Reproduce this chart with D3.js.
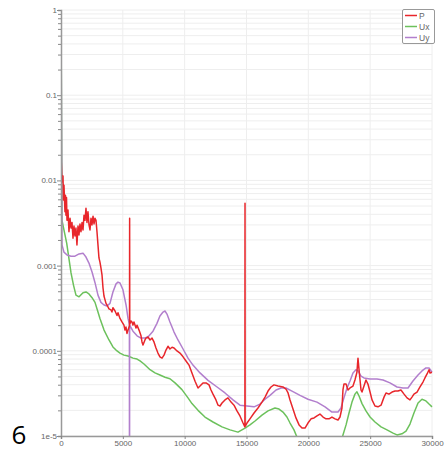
<!DOCTYPE html>
<html><head><meta charset="utf-8">
<script src="https://cdn.jsdelivr.net/npm/d3@7"></script>
<style>body{margin:0;background:#fff;}svg{display:block;font-family:"Liberation Sans",Arial,sans-serif;}</style>
</head><body>
<svg id="c" width="445" height="453"></svg>
<script>
const seriesNames = ["P", "Ux", "Uy"];
const seriesColors = ["#e8262b", "#6cc15c", "#b27fcd"];
const xTicks = [0, 5000, 10000, 15000, 20000, 25000, 30000];
const yTicks = [1, 0.1, 0.01, 0.001, 0.0001, 1e-5];
const yTickLabels = ["1", "0.1", "0.01", "0.001", "0.0001", "1e-5"];
const pageLabel = "6";

const pData = [[0,0.02],[80,9.6e-3],[160,1.13e-2],[200,5.9e-3],[240,8.8e-3],[320,4.3e-3],[360,6.7e-3],[400,3.9e-3],[445,6.3e-3],[485,3.4e-3],[565,4.5e-3],[645,2.5e-3],[730,3.6e-3],[810,2.76e-3],[890,3.2e-3],[970,2.1e-3],[1050,2.92e-3],[1130,2.23e-3],[1210,2.76e-3],[1290,1.75e-3],[1375,2.92e-3],[1455,2.29e-3],[1535,3.08e-3],[1615,2.5e-3],[1700,3.2e-3],[1780,2.62e-3],[1860,3.9e-3],[1940,3.4e-3],[2020,4.7e-3],[2100,3.2e-3],[2180,4.3e-3],[2265,3.0e-3],[2345,2.62e-3],[2425,3.6e-3],[2505,3.0e-3],[2590,3.8e-3],[2670,3.08e-3],[2750,3.6e-3],[2830,3.4e-3],[2910,2.5e-3],[2990,1.75e-3],[3070,1.23e-3],[3150,1.1e-3],[3230,9.4e-4],[3315,7.8e-4],[3395,5.5e-4],[3475,4.4e-4],[3560,3.96e-4],[3640,3.6e-4],[3720,3.45e-4],[3880,3.1e-4],[4040,3.02e-4],[4120,2.85e-4],[4200,3.2e-4],[4370,2.93e-4],[4530,2.6e-4],[4610,2.8e-4],[4770,2.4e-4],[4930,2.18e-4],[5090,2.0e-4],[5175,1.75e-4],[5255,1.9e-4],[5335,1.6e-4],[5420,1.75e-4],[5540,1.97e-4],[5550,3.6e-3],[5560,2.05e-4],[5660,2.24e-4],[5740,2.18e-4],[5820,2.0e-4],[5900,2.18e-4],[6065,1.85e-4],[6145,2.0e-4],[6310,1.75e-4],[6470,1.5e-4],[6550,1.27e-4],[6630,1.17e-4],[6790,1.34e-4],[6870,1.41e-4],[7035,1.45e-4],[7200,1.34e-4],[7360,1.41e-4],[7520,1.27e-4],[7680,1.08e-4],[7840,9.4e-5],[8000,8.5e-5],[8170,8.2e-5],[8330,8.9e-5],[8490,1.02e-4],[8650,1.13e-4],[8810,1.05e-4],[8980,1.1e-4],[9140,1.08e-4],[9380,9.95e-5],[9620,9.4e-5],[9870,8.5e-5],[10110,7.6e-5],[10350,6.8e-5],[10590,5.5e-5],[10840,4.4e-5],[11080,3.66e-5],[11240,3.86e-5],[11480,4.2e-5],[11730,4.2e-5],[11970,3.98e-5],[12130,3.47e-5],[12290,3.1e-5],[12530,2.65e-5],[12700,2.3e-5],[12860,2.25e-5],[13020,2.44e-5],[13260,2.65e-5],[13500,2.8e-5],[13750,2.5e-5],[13990,2.3e-5],[14230,1.97e-5],[14470,1.72e-5],[14720,1.42e-5],[14870,1.28e-5],[14880,5.4e-3],[14890,1.3e-5],[15040,1.42e-5],[15280,1.59e-5],[15610,1.86e-5],[15930,2.13e-5],[16250,2.5e-5],[16500,2.86e-5],[16740,3.37e-5],[16980,3.76e-5],[17220,3.98e-5],[17550,3.86e-5],[17950,3.76e-5],[18190,3.56e-5],[18360,3.2e-5],[18520,2.65e-5],[18760,2.07e-5],[19000,1.63e-5],[19250,1.35e-5],[19490,1.24e-5],[19730,1.24e-5],[19970,1.42e-5],[20220,1.59e-5],[20460,1.63e-5],[20700,1.72e-5],[20940,1.81e-5],[21190,1.67e-5],[21430,1.59e-5],[21670,1.59e-5],[21910,1.67e-5],[22160,1.59e-5],[22400,1.54e-5],[22560,1.67e-5],[22720,2.13e-5],[22800,3.47e-5],[22880,4.07e-5],[23050,4.07e-5],[23210,3.47e-5],[23370,3.66e-5],[23610,3.86e-5],[23770,4.54e-5],[23930,5.6e-5],[24015,8.2e-5],[24100,6.0e-5],[24180,4.54e-5],[24260,3.47e-5],[24340,3.28e-5],[24500,3.86e-5],[24660,4.54e-5],[24820,4.07e-5],[24990,3.28e-5],[25150,2.65e-5],[25390,2.25e-5],[25630,2.2e-5],[25880,2.3e-5],[26120,2.86e-5],[26280,3.2e-5],[26520,3.1e-5],[26770,3.28e-5],[27010,3.37e-5],[27250,3.37e-5],[27490,3.47e-5],[27740,3.1e-5],[27980,2.8e-5],[28220,2.65e-5],[28380,2.86e-5],[28540,3.1e-5],[28790,3.28e-5],[29030,3.76e-5],[29270,4.3e-5],[29430,4.8e-5],[29600,5.35e-5],[29760,6.0e-5],[29840,5.5e-5],[30000,5.6e-5]];

const uxData = [[0,1],[80,3.4e-3],[460,1.84e-3],[810,8.2e-4],[1010,5.9e-4],[1210,4.5e-4],[1460,4.3e-4],[1780,4.8e-4],[2020,4.9e-4],[2260,4.65e-4],[2510,4.2e-4],[2750,3.7e-4],[2990,2.85e-4],[3150,2.4e-4],[3480,1.75e-4],[3880,1.34e-4],[4200,1.11e-4],[4450,1.02e-4],[4770,9.4e-5],[5090,8.9e-5],[5420,8.7e-5],[5820,8.2e-5],[6150,8.0e-5],[6390,7.6e-5],[6710,7.0e-5],[7200,6.0e-5],[7600,5.5e-5],[8000,5.2e-5],[8410,4.9e-5],[8810,4.7e-5],[9220,4.2e-5],[9780,3.5e-5],[10270,2.8e-5],[10590,2.4e-5],[11080,2.0e-5],[11640,1.67e-5],[12290,1.46e-5],[13020,1.28e-5],[13670,1.18e-5],[14310,1.11e-5],[14880,1.24e-5],[15280,1.35e-5],[15690,1.5e-5],[16250,1.76e-5],[16740,1.97e-5],[17300,2.13e-5],[17630,2.07e-5],[17950,1.91e-5],[18270,1.67e-5],[18520,1.42e-5],[18840,1.18e-5],[19080,9.7e-6],[19330,7.9e-6],[19570,5.5e-6],[20900,3e-6],[22400,5e-6],[22640,8e-6],[22800,1.03e-5],[23050,1.35e-5],[23290,1.86e-5],[23530,2.5e-5],[23770,3.1e-5],[23930,3.3e-5],[24100,2.95e-5],[24340,2.4e-5],[24660,1.97e-5],[24990,1.67e-5],[25390,1.46e-5],[25880,1.28e-5],[26360,1.18e-5],[26850,1.08e-5],[27170,1.03e-5],[27570,1.06e-5],[27900,1.14e-5],[28220,1.38e-5],[28540,1.86e-5],[28870,2.44e-5],[29190,2.7e-5],[29510,2.58e-5],[29760,2.37e-5],[30000,2.2e-5]];

const uyData = [[0,1],[80,1.75e-3],[240,1.44e-3],[490,1.33e-3],[810,1.29e-3],[1130,1.29e-3],[1460,1.37e-3],[1780,1.4e-3],[2020,1.26e-3],[2260,1.07e-3],[2510,8.4e-4],[2750,6.3e-4],[2990,4.5e-4],[3230,3.7e-4],[3480,3.45e-4],[3720,3.35e-4],[3960,3.6e-4],[4200,4.9e-4],[4450,6.1e-4],[4610,6.4e-4],[4770,6.25e-4],[5010,5.2e-4],[5260,3.45e-4],[5420,2.4e-4],[5530,2.05e-4],[5540,1e-7],[5550,2.0e-4],[5820,1.7e-4],[6150,1.5e-4],[6470,1.41e-4],[6790,1.41e-4],[7120,1.5e-4],[7440,1.7e-4],[7760,2.1e-4],[8000,2.56e-4],[8250,2.85e-4],[8410,2.93e-4],[8570,2.7e-4],[8810,2.18e-4],[9140,1.66e-4],[9460,1.34e-4],[9870,1.05e-4],[10270,8.2e-5],[10670,6.8e-5],[11240,5.5e-5],[11890,4.5e-5],[12620,3.76e-5],[13260,3.2e-5],[13910,2.65e-5],[14470,2.3e-5],[15040,2.25e-5],[15610,2.2e-5],[16090,2.37e-5],[16500,2.7e-5],[16900,3.0e-5],[17390,3.47e-5],[17790,3.66e-5],[18190,3.66e-5],[18680,3.37e-5],[19330,3.0e-5],[19970,2.7e-5],[20700,2.5e-5],[21350,2.2e-5],[21910,1.91e-5],[22400,1.91e-5],[22640,2.13e-5],[22880,2.8e-5],[23130,3.66e-5],[23370,4.42e-5],[23610,5.5e-5],[23850,6.0e-5],[24020,5.8e-5],[24260,5.06e-5],[24500,4.8e-5],[24990,4.67e-5],[25550,4.67e-5],[26040,4.54e-5],[26600,4.2e-5],[27170,3.76e-5],[27650,3.66e-5],[28060,3.66e-5],[28460,4.42e-5],[28870,5.2e-5],[29190,5.8e-5],[29510,6.3e-5],[29760,6.3e-5],[30000,5.6e-5]];

const svg = d3.select("#c");
const L = 61, R = 432, T = 10, B = 436;
const x = d3.scaleLinear().domain([0, 30000]).range([L, R]);
const y = d3.scaleLog().domain([1e-5, 1]).range([B, T]);

const minorVals = [];
for (let e = -5; e < 0; e++) for (let m = 1; m < 10; m++) minorVals.push(m * Math.pow(10, e));
minorVals.push(1);

const grid = svg.append("g");
grid.selectAll("line.h").data(minorVals).join("line")
  .attr("x1", L).attr("x2", R).attr("y1", d => y(d)).attr("y2", d => y(d))
  .attr("stroke", "#eeeeee").attr("stroke-width", 1);
grid.selectAll("line.v").data(xTicks.slice(1)).join("line")
  .attr("x1", d => x(d)).attr("x2", d => x(d)).attr("y1", T).attr("y2", B)
  .attr("stroke", "#eeeeee").attr("stroke-width", 1);

svg.append("clipPath").attr("id", "clip").append("rect")
  .attr("x", L).attr("y", T - 2).attr("width", R - L + 2).attr("height", B - T + 2);

const line = d3.line().x(d => x(d[0])).y(d => y(Math.max(d[1], 1e-8)));
const plot = svg.append("g").attr("clip-path", "url(#clip)");
const allData = [pData, uxData, uyData];
[1, 2, 0].forEach(i => {
  plot.append("path").datum(allData[i]).attr("d", line)
    .attr("fill", "none").attr("stroke", seriesColors[i])
    .attr("stroke-width", 1.5).attr("stroke-linejoin", "round");
});

const yAxis = d3.axisLeft(y).tickValues(minorVals).tickSize(3)
  .tickFormat(d => { const k = yTicks.indexOf(d); return k >= 0 ? yTickLabels[k] : ""; });
const gy = svg.append("g").attr("transform", `translate(${L},0)`).call(yAxis);
gy.select(".domain").attr("stroke", "#999").attr("stroke-width", 1.5);
gy.selectAll(".tick line").attr("stroke", "#888")
  .attr("x2", d => yTicks.indexOf(d) >= 0 ? -4 : -3);
gy.selectAll(".tick text").attr("fill", "#666").style("font-size", "8px").attr("x", -4);

const xAxis = d3.axisBottom(x).tickValues(xTicks).tickSize(3).tickFormat(d3.format("d"));
const gx = svg.append("g").attr("transform", `translate(0,${B})`).call(xAxis);
gx.select(".domain").attr("stroke", "#999").attr("stroke-width", 1.5);
gx.selectAll(".tick line").attr("stroke", "#888");
gx.selectAll(".tick text").attr("fill", "#666").style("font-size", "8px").attr("y", 4);

const lg = svg.append("g");
lg.append("rect").attr("x", 402.5).attr("y", 9.5).attr("width", 32).attr("height", 34)
  .attr("fill", "#fff").attr("stroke", "#999").attr("rx", 1.5);
seriesNames.forEach((n, i) => {
  const yy = 15.5 + i * 11;
  lg.append("line").attr("x1", 405).attr("x2", 417).attr("y1", yy).attr("y2", yy)
    .attr("stroke", seriesColors[i]).attr("stroke-width", 1.5);
  lg.append("text").attr("x", 419).attr("y", yy + 3).text(n)
    .attr("fill", "#666").style("font-size", "8.5px");
});

svg.append("text").attr("x", 19).attr("y", 444).attr("text-anchor", "middle")
  .style("font-size", "26px").style("font-family", "'Open Sans', 'Noto Sans', sans-serif")
  .attr("fill", "#000").text(pageLabel);
</script>
</body></html>
